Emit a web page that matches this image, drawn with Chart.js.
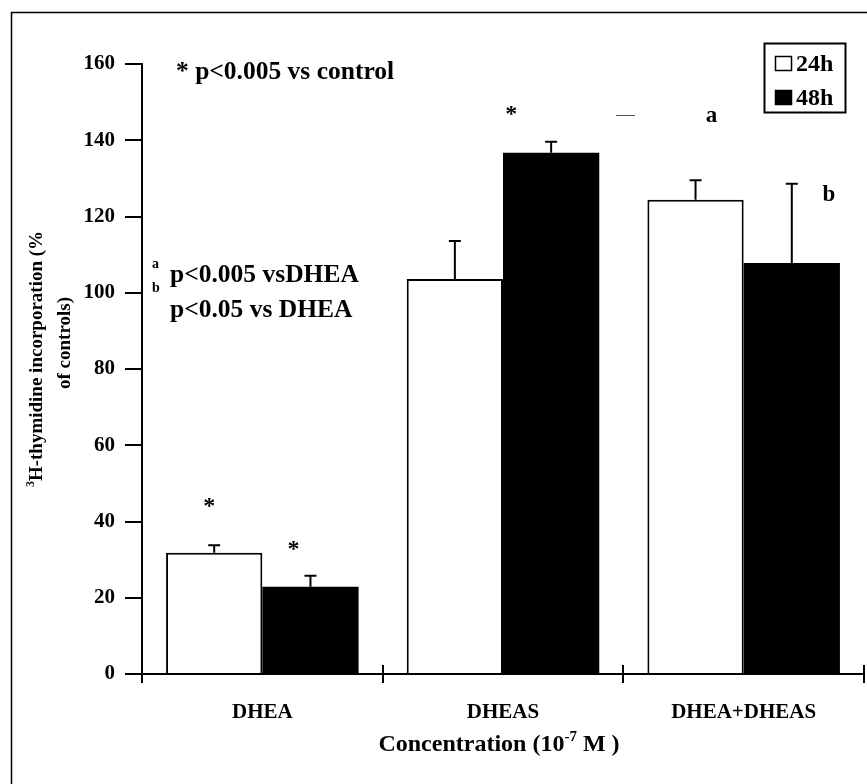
<!DOCTYPE html>
<html><head><meta charset="utf-8">
<script src="https://cdn.jsdelivr.net/npm/chart.js@4.4.1/dist/chart.umd.min.js"></script>
<style>html,body{margin:0;padding:0;background:#fff;} canvas{display:block;}</style>
</head><body>
<canvas id="c" width="867" height="784"></canvas>
<script>
// ---- data ----
const categories = ['DHEA', 'DHEAS', 'DHEA+DHEAS'];
const seriesLabels = ['24h', '48h'];
const values24h = [31.8, 103.6, 124.4];
const errors24h = [2.0, 10.0, 5.1];
const values48h = [22.9, 136.7, 107.8];
const errors48h = [2.9, 2.9, 20.8];
const yTickMin = 0, yTickMax = 160, yTickStep = 20;

const FONT = "'Liberation Serif', 'Times New Roman', serif";
const errorsBySeries = [errors24h, errors48h];

const decor = {
  id: 'decor',
  beforeDraw(chart) {
    const ctx = chart.ctx;
    ctx.save();
    ctx.fillStyle = '#fff';
    ctx.fillRect(0, 0, chart.width, chart.height);
    ctx.strokeStyle = '#000';
    ctx.lineWidth = 1.5;
    ctx.beginPath();
    ctx.moveTo(11.5, chart.height);
    ctx.lineTo(11.5, 12.5);
    ctx.lineTo(chart.width, 12.5);
    ctx.stroke();
    ctx.restore();
  },
  afterDatasetsDraw(chart) {
    const ctx = chart.ctx;
    const ys = chart.scales.y;
    ctx.save();
    ctx.strokeStyle = '#000';
    ctx.lineWidth = 2;
    chart.data.datasets.forEach((ds, di) => {
      const meta = chart.getDatasetMeta(di);
      meta.data.forEach((el, i) => {
        const v = ds.data[i], e = errorsBySeries[di][i];
        const yTop = ys.getPixelForValue(v + e);
        ctx.beginPath();
        ctx.moveTo(el.x, el.y);
        ctx.lineTo(el.x, yTop);
        ctx.moveTo(el.x - 6, yTop);
        ctx.lineTo(el.x + 6, yTop);
        ctx.stroke();
      });
    });
    ctx.restore();
  },
  afterDraw(chart) {
    const ctx = chart.ctx;
    const ys = chart.scales.y;
    const area = chart.chartArea;
    ctx.save();
    // upper half of category boundary ticks
    ctx.strokeStyle = '#000';
    ctx.lineWidth = 2;
    const n = categories.length;
    const w = (area.right - area.left) / n;
    for (let i = 0; i <= n; i++) {
      const x = Math.round(area.left + i * w);
      ctx.beginPath();
      ctx.moveTo(x, area.bottom);
      ctx.lineTo(x, area.bottom - 9);
      ctx.stroke();
    }
    // stray dash
    ctx.lineWidth = 1;
    ctx.strokeStyle = '#555';
    ctx.beginPath();
    ctx.moveTo(616, 115.5);
    ctx.lineTo(635, 115.5);
    ctx.stroke();

    ctx.fillStyle = '#000';
    ctx.textBaseline = 'alphabetic';
    ctx.textAlign = 'left';

    // significance markers anchored to bars
    const marks = [
      {t: '*', ds: 0, i: 0, dx: -5, y: 45.1, size: 24, star: true},
      {t: '*', ds: 1, i: 0, dx: -17, y: 33.8, size: 24, star: true},
      {t: '*', ds: 1, i: 1, dx: -40, y: 148.0, size: 24, star: true},
      {t: 'a', ds: 0, i: 2, dx: 16, y: 146.4, size: 23},
      {t: 'b', ds: 1, i: 2, dx: 37, y: 125.6, size: 23}
    ];
    marks.forEach(m => {
      const el = chart.getDatasetMeta(m.ds).data[m.i];
      const cx = el.x + m.dx;
      const cy = ys.getPixelForValue(m.y);
      ctx.font = `bold ${m.size}px ${FONT}`;
      ctx.textAlign = 'center';
      ctx.fillText(m.t, cx, m.star ? cy + 0.45 * m.size : cy + 6);
    });

    // notes
    ctx.textAlign = 'left';
    ctx.font = `bold 25.5px ${FONT}`;
    ctx.fillText('* p<0.005 vs control', 176, 79);
    ctx.font = `bold 14px ${FONT}`;
    ctx.fillText('a', 152, 268);
    ctx.fillText('b', 152, 292);
    ctx.font = `bold 25.5px ${FONT}`;
    ctx.fillText('p<0.005 vsDHEA', 170, 282);
    ctx.fillText('p<0.05 vs DHEA', 170, 317);

    // legend
    ctx.lineWidth = 2;
    ctx.strokeStyle = '#000';
    ctx.strokeRect(764.5, 43.5, 81, 69);
    chart.data.datasets.forEach((ds, di) => {
      const top = 56 + di * 34;
      ctx.fillStyle = ds.backgroundColor;
      ctx.fillRect(775, top, 17, 15);
      ctx.lineWidth = 1.5;
      ctx.strokeRect(775.5, top + 0.5, 16, 14);
      ctx.fillStyle = '#000';
      ctx.font = `bold 24px ${FONT}`;
      ctx.fillText(ds.label, 796, top + 15);
    });

    // x axis title with superscript
    {
      const main1 = 'Concentration (10', sup = '-7', main2 = ' M )';
      ctx.font = `bold 24px ${FONT}`;
      const w1 = ctx.measureText(main1).width, w3 = ctx.measureText(main2).width;
      ctx.font = `bold 15px ${FONT}`;
      const w2 = ctx.measureText(sup).width;
      const total = w1 + w2 + w3;
      const cx = (area.left + area.right) / 2 - 4;
      let x = cx - total / 2;
      const base = 751;
      ctx.font = `bold 24px ${FONT}`;
      ctx.fillText(main1, x, base); x += w1;
      ctx.font = `bold 15px ${FONT}`;
      ctx.fillText(sup, x, base - 10); x += w2;
      ctx.font = `bold 24px ${FONT}`;
      ctx.fillText(main2, x, base);
    }
    // y axis title (two lines, rotated)
    {
      const sup = '3', main = 'H-thymidine incorporation (%';
      ctx.font = `bold 19px ${FONT}`;
      const wm = ctx.measureText(main).width;
      ctx.font = `bold 12px ${FONT}`;
      const ws = ctx.measureText(sup).width;
      const total = wm + ws;
      ctx.save();
      ctx.translate(42, 359);
      ctx.rotate(-Math.PI / 2);
      let x = -total / 2;
      ctx.font = `bold 12px ${FONT}`;
      ctx.fillText(sup, x, -8); x += ws;
      ctx.font = `bold 19px ${FONT}`;
      ctx.fillText(main, x, 0);
      ctx.restore();
      ctx.save();
      ctx.translate(70, 343);
      ctx.rotate(-Math.PI / 2);
      ctx.textAlign = 'center';
      ctx.font = `bold 19px ${FONT}`;
      ctx.fillText('of controls)', 0, 0);
      ctx.restore();
    }
    ctx.restore();
  }
};

new Chart(document.getElementById('c'), {
  type: 'bar',
  data: {
    labels: categories,
    datasets: [
      {label: seriesLabels[0], data: values24h, backgroundColor: '#ffffff', borderColor: '#000000', borderWidth: 2, borderSkipped: 'start'},
      {label: seriesLabels[1], data: values48h, backgroundColor: '#000000', borderColor: '#000000', borderWidth: 0}
    ]
  },
  options: {
    responsive: false,
    animation: false,
    devicePixelRatio: 1,
    layout: {padding: {top: 64, right: 3, left: 0, bottom: 0}},
    datasets: {bar: {categoryPercentage: 0.8, barPercentage: 1.0}},
    plugins: {legend: {display: false}, tooltip: {enabled: false}, title: {display: false}},
    scales: {
      x: {
        offset: true,
        grid: {offset: true, drawOnChartArea: false, tickLength: 9, color: '#000', lineWidth: 2},
        border: {color: '#000', width: 2},
        ticks: {color: '#000', font: {family: FONT, weight: 'bold', size: 21}, padding: 17, maxRotation: 0},
        afterFit(s) { s.height = 110; }
      },
      y: {
        min: yTickMin, max: yTickMax,
        ticks: {stepSize: yTickStep, color: '#000', font: {family: FONT, weight: 'bold', size: 21}, padding: 10},
        grid: {drawOnChartArea: false, tickLength: 17, color: '#000', lineWidth: 2},
        border: {color: '#000', width: 2},
        afterFit(s) { s.width = 142; }
      }
    }
  },
  plugins: [decor]
});
</script>
</body></html>
